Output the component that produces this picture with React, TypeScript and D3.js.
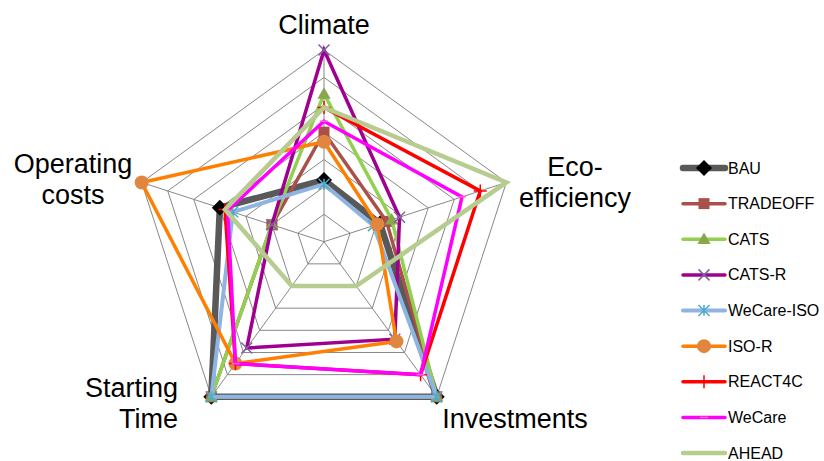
import React from "react";
import * as d3 from "d3";

// axes (clockwise from top) and series
const axes = ["Climate", "Eco-efficiency", "Investments", "Starting Time", "Operating costs"];
const seriesNames = ["BAU", "TRADEOFF", "CATS", "CATS-R", "WeCare-ISO", "ISO-R", "REACT4C", "WeCare", "AHEAD"];

const bau = [2.25, 2.15, 7, 7, 4];
const tradeoff = [4.0, 2.4, 7, 7, 2];
const cats = [5.4, 2.6, 7, 7, 2];
const catsR = [7, 2.9, 4.4, 4.8, 2];
const wecareIso = [2.1, 1.9, 7, 7, 3.5];
const isoR = [3.65, 2.05, 4.5, 5.5, 7];
const react4c = [4.9, 6, 6, 5.5, 3.8];
const wecare = [4.4, 5.3, 6, 5.5, 3.7];
const ahead = [4.9, 7, 2, 2, 3.8];

const seriesValues = [bau, tradeoff, cats, catsR, wecareIso, isoR, react4c, wecare, ahead];
const ringCount = 7;

const styles = [
  { line: "#595959", width: 6.5, marker: "diamond", mColor: "#000000", mSize: 16 },
  { line: "#A9504B", width: 3.5, marker: "square", mColor: "#A9504B", mSize: 11 },
  { line: "#92D050", width: 3.5, marker: "triangle", mColor: "#8AA64F", mSize: 13 },
  { line: "#A0008F", width: 3.5, marker: "x", mColor: "#7F63A2", mSize: 11 },
  { line: "#8DB4E2", width: 4, marker: "star", mColor: "#4BACC6", mSize: 11 },
  { line: "#FF7F00", width: 3.5, marker: "circle", mColor: "#E0863E", mSize: 14 },
  { line: "#FF0000", width: 3.5, marker: "plus", mColor: "#FF0000", mSize: 13 },
  { line: "#FF00FF", width: 3.5, marker: "dash", mColor: "#FF66CC", mSize: 8 },
  { line: "#B7CC8F", width: 4.5, marker: "none", mColor: "#B7CC8F", mSize: 0 },
];

const labelLayout = [
  { lines: ["Climate"], x: 324, y: 34, anchor: "middle" },
  { lines: ["Eco-", "efficiency"], x: 575, y: 176, anchor: "middle" },
  { lines: ["Investments"], x: 515, y: 428, anchor: "middle" },
  { lines: ["Starting", "Time"], x: 178, y: 397, anchor: "end" },
  { lines: ["Operating", "costs"], x: 73, y: 173, anchor: "middle" },
];

const W = 824;
const H = 461;
const cx = 324;
const cy = 241.7;
const R = 191.7;

const r = d3.scaleLinear().domain([0, ringCount]).range([0, R]);
const angle = d3.scaleLinear().domain([0, axes.length]).range([0, 2 * Math.PI]);
const pt = (i: number, v: number): [number, number] => [
  cx + r(v) * Math.sin(angle(i)),
  cy - r(v) * Math.cos(angle(i)),
];

const radar = d3
  .lineRadial<number>()
  .angle((_, i) => angle(i))
  .radius((d) => r(d))
  .curve(d3.curveLinearClosed);

function Marker({ type, x, y, size, color }) {
  const h = size / 2;
  switch (type) {
    case "diamond":
      return <path d={`M${x},${y - h}L${x + h},${y}L${x},${y + h}L${x - h},${y}Z`} fill={color} />;
    case "square":
      return <rect x={x - h} y={y - h} width={size} height={size} fill={color} />;
    case "triangle":
      return <path d={d3.symbol(d3.symbolTriangle, size * size * 0.45)()} transform={`translate(${x},${y + 1})`} fill={color} />;
    case "circle":
      return <circle cx={x} cy={y} r={h} fill={color} />;
    case "x":
      return (
        <path d={`M${x - h},${y - h}L${x + h},${y + h}M${x - h},${y + h}L${x + h},${y - h}`} stroke={color} strokeWidth={1.5} />
      );
    case "star":
      return (
        <path
          d={`M${x - h},${y - h}L${x + h},${y + h}M${x - h},${y + h}L${x + h},${y - h}M${x},${y - h}L${x},${y + h}`}
          stroke={color}
          strokeWidth={1.5}
        />
      );
    case "plus":
      return <path d={`M${x - h},${y}L${x + h},${y}M${x},${y - h}L${x},${y + h}`} stroke={color} strokeWidth={1.5} />;
    case "dash":
      return <path d={`M${x - h},${y}L${x + h},${y}`} stroke={color} strokeWidth={1.5} />;
    default:
      return null;
  }
}

export default function App() {
  const rings = d3.range(1, ringCount + 1);
  const legendY = d3.scaleLinear().domain([0, seriesNames.length - 1]).range([168, 453]);

  return (
    <svg
      width={W}
      height={H}
      style={{ position: "absolute", left: 0, top: 0, background: "#fff", fontFamily: "'Liberation Sans', Arial, sans-serif" }}
    >
      {/* grid */}
      <g fill="none" stroke="#878787" strokeWidth={1}>
        {rings.map((k) => (
          <path key={k} d={"M" + axes.map((_, i) => pt(i, k).join(",")).join("L") + "Z"} />
        ))}
        {axes.map((_, i) => {
          const [x, y] = pt(i, ringCount);
          return <line key={i} x1={cx} y1={cy} x2={x} y2={y} />;
        })}
      </g>

      {/* series */}
      {seriesValues.map((vals, s) => {
        const st = styles[s];
        return (
          <g key={seriesNames[s]}>
            <path
              d={radar(vals)}
              transform={`translate(${cx},${cy})`}
              fill="none"
              stroke={st.line}
              strokeWidth={st.width}
              strokeLinejoin="miter"
            />
            {vals.map((v, i) => {
              const [x, y] = pt(i, v);
              return <Marker key={i} type={st.marker} x={x} y={y} size={st.mSize} color={st.mColor} />;
            })}
          </g>
        );
      })}

      {/* axis labels */}
      <g fontSize={27} fill="#000">
        {labelLayout.map((lab, i) => (
          <text key={axes[i]} x={lab.x} y={lab.y} textAnchor={lab.anchor}>
            {lab.lines.map((ln, j) => (
              <tspan key={j} x={lab.x} dy={j === 0 ? 0 : 30.5}>
                {ln}
              </tspan>
            ))}
          </text>
        ))}
      </g>

      {/* legend */}
      <g fontSize={16} fill="#000">
        {seriesNames.map((name, s) => {
          const st = styles[s];
          const y = legendY(s);
          return (
            <g key={name}>
              <line
                x1={683}
                x2={725}
                y1={y}
                y2={y}
                stroke={st.line}
                strokeWidth={st.width}
                strokeLinecap="round"
              />
              <Marker type={st.marker} x={704} y={y} size={st.mSize} color={st.mColor} />
              <text x={728} y={y + 5.5}>
                {name}
              </text>
            </g>
          );
        })}
      </g>
    </svg>
  );
}
